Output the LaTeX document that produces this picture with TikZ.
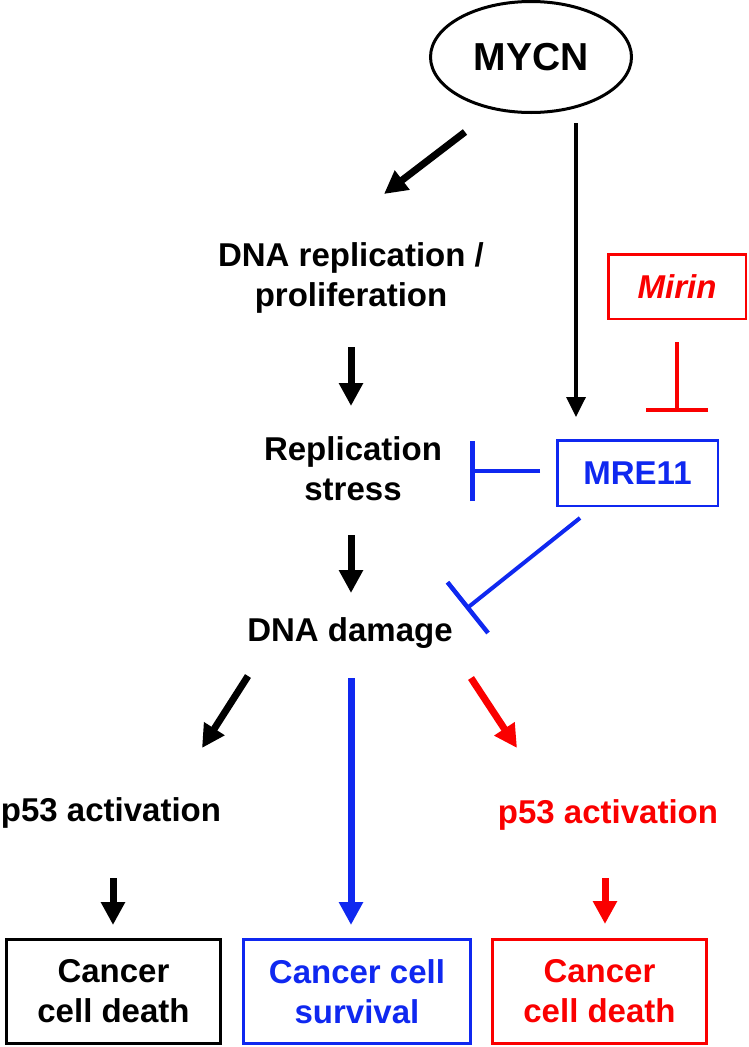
\documentclass[tikz,border=0pt]{standalone}
\usepackage{fontspec}
\setmainfont{Liberation Sans}
\usetikzlibrary{arrows.meta,shapes.geometric}
\definecolor{myblue}{RGB}{15,40,240}
\definecolor{myred}{RGB}{250,0,0}
\tikzset{
  txt/.style={font=\bfseries\fontsize{33}{40}\selectfont, align=center, inner sep=0pt},
  boxnode/.style={draw, line width=3pt, minimum width=214pt, minimum height=104pt, inner sep=0pt, txt},
  thick arrow/.style={line width=7pt, -{Triangle[length=23pt,width=23pt]}},
  inhib/.style={line width=4pt, -{Bar[width=#1,line width=4.5pt]}},
}
\begin{document}
\begin{tikzpicture}[x=1pt,y=-1pt]
\useasboundingbox (0,0) rectangle (748,1047);
% nodes
\node[draw, ellipse, line width=3pt, minimum width=201pt, minimum height=111pt, inner sep=0pt,
      font=\bfseries\fontsize{39}{44}\selectfont] (mycn) at (531,57) {MYCN};
\node[txt] (rep) at (351,278) {DNA replication /\\proliferation};
\node[txt] (stress) at (353,469) {Replication\\stress};
\node[txt] (damage) at (350,633) {DNA damage};
\node[txt] (p53a) at (111,813) {p53 activation};
\node[txt, text=myred] (p53b) at (608,815) {p53 activation};
\node[draw=myblue, line width=2.5pt, minimum width=160.5pt, minimum height=65.5pt, txt, text=myblue] (mre) at (637.5,473) {MRE11};
\node[draw=myred, line width=2.5pt, minimum width=137.5pt, minimum height=64.5pt, txt, text=myred,
      font=\bfseries\itshape\fontsize{33}{40}\selectfont] (mirin) at (677,286.5) {Mirin};
\node[boxnode] (death1) at (113.5,991.5) {Cancer\\cell death};
\node[boxnode, draw=myblue, text=myblue, minimum width=227pt] (surv) at (357,991.5) {Cancer cell\\survival};
\node[boxnode, draw=myred, text=myred] (death2) at (599.5,991.5) {Cancer\\cell death};
% connector ends
\coordinate (m1) at (465,132); \coordinate (r0) at (384,194);
\coordinate (m2) at (576,123); \coordinate (mre0) at (576,417);
\coordinate (r1) at (351,347); \coordinate (s0) at (351,406);
\coordinate (s1) at (351,535); \coordinate (d0) at (351,593);
\coordinate (d1) at (248,676); \coordinate (pa0) at (202,748);
\coordinate (d2) at (351,678); \coordinate (sv0) at (351,925);
\coordinate (d3) at (471,678); \coordinate (pb0) at (517,748);
\coordinate (pa1) at (113,878); \coordinate (de1) at (113,925);
\coordinate (pb1) at (605,878); \coordinate (de2) at (605,924);
\coordinate (mre1) at (540,471); \coordinate (s2) at (470,471);
\coordinate (mre2) at (580,518); \coordinate (d4) at (466,609);
\coordinate (mi1) at (677,342); \coordinate (mre3) at (677,412);
% connectors
\draw[thick arrow] (m1) -- (r0);
\draw[line width=3.5pt, -{Triangle[length=20pt,width=19pt]}] (m2) -- (mre0);
\draw[thick arrow] (r1) -- (s0);
\draw[thick arrow] (s1) -- (d0);
\draw[thick arrow] (d1) -- (pa0);
\draw[thick arrow, myblue] (d2) -- (sv0);
\draw[thick arrow, myred] (d3) -- (pb0);
\draw[thick arrow] (pa1) -- (de1);
\draw[thick arrow, myred] (pb1) -- (de2);
\draw[inhib=60pt, myblue] (mre1) -- (s2);
\draw[inhib=65pt, myblue] (mre2) -- (d4);
\draw[inhib=62pt, myred] (mi1) -- (mre3);
\end{tikzpicture}
\end{document}
